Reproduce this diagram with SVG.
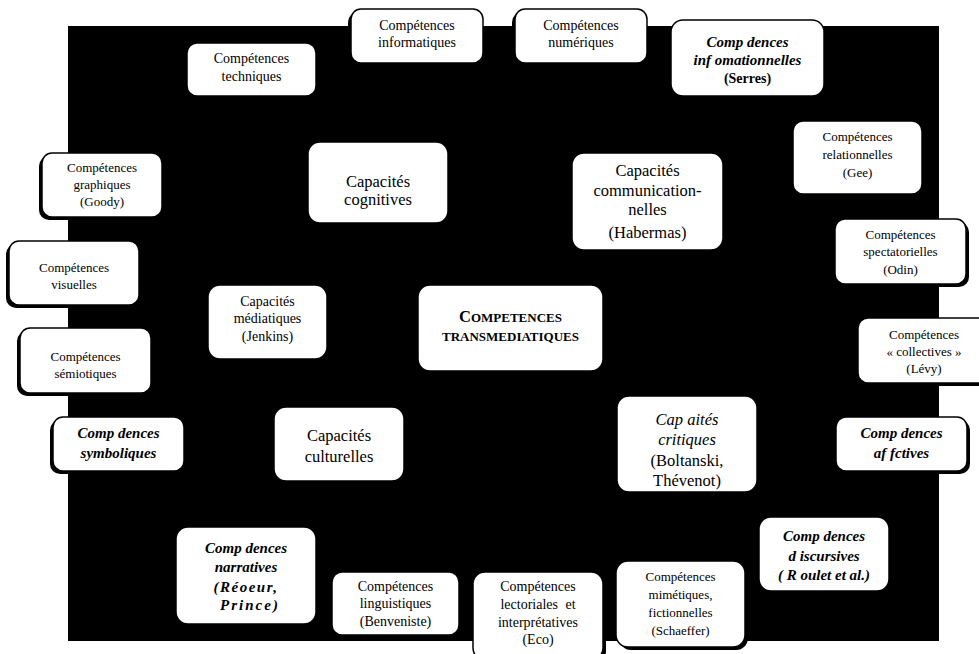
<svg xmlns="http://www.w3.org/2000/svg" width="979" height="654" viewBox="0 0 979 654" font-family="'Liberation Serif', 'DejaVu Serif', serif">
  <style>
    .bg { fill: #000; }
    .box { fill: #fff; stroke: #000; stroke-width: 1.5; }
    .sh { fill: #000; }
    text { font-family: 'Liberation Serif', 'DejaVu Serif', serif; fill: #000; text-anchor: middle; }
    .s { font-size: 14px; }
    .xs { font-size: 13px; }
    .big { font-size: 16.5px; }
    .bi { font-size: 15px; font-weight: bold; font-style: italic; }
    .it { font-style: italic; }
    .sc { font-weight: bold; font-size: 13px; }
    .scC { font-size: 16.5px; }
  </style>

  <!-- black backdrop -->
  <rect class="bg" x="68" y="26" width="871" height="615"/>

  <!-- outer ring of competences -->
  <g id="techniques">
    <rect class="sh" x="184" y="46" width="129" height="53" rx="10"/>
    <rect class="box" x="187" y="43" width="129" height="53" rx="10"/>
    <text class="s" x="251.5" y="63">Compétences</text>
    <text class="s" x="251.5" y="81">techniques</text>
  </g>

  <g id="informatiques">
    <rect class="sh" x="348" y="12" width="132" height="54" rx="10"/>
    <rect class="box" x="351" y="9" width="132" height="54" rx="10"/>
    <text class="s" x="417" y="30">Compétences</text>
    <text class="s" x="417" y="47">informatiques</text>
  </g>

  <g id="numeriques">
    <rect class="sh" x="512" y="12" width="132" height="54" rx="10"/>
    <rect class="box" x="515" y="9" width="132" height="54" rx="10"/>
    <text class="s" x="581" y="30">Compétences</text>
    <text class="s" x="581" y="47">numériques</text>
  </g>

  <g id="informationnelles">
    <rect class="sh" x="668" y="23" width="153" height="76" rx="12"/>
    <rect class="box" x="671" y="20" width="153" height="76" rx="12"/>
    <text class="bi" x="747.5" y="47">Comp dences</text>
    <text class="bi" x="747.5" y="65">inf omationnelles</text>
    <text class="s" x="747.5" y="83" font-weight="bold">(Serres)</text>
  </g>

  <g id="relationnelles">
    <rect class="sh" x="796" y="124" width="129" height="73" rx="10"/>
    <rect class="box" x="793" y="121" width="129" height="73" rx="10"/>
    <text class="xs" x="857.5" y="141">Compétences</text>
    <text class="xs" x="857.5" y="159">relationnelles</text>
    <text class="xs" x="857.5" y="177">(Gee)</text>
  </g>

  <g id="graphiques">
    <rect class="sh" x="39" y="156" width="120" height="64" rx="10"/>
    <rect class="box" x="42" y="153" width="120" height="64" rx="10"/>
    <text class="xs" x="102" y="172">Compétences</text>
    <text class="xs" x="102" y="189">graphiques</text>
    <text class="xs" x="102" y="206">(Goody)</text>
  </g>

  <g id="spectatorielles">
    <rect class="sh" x="838" y="222" width="131" height="65" rx="10"/>
    <rect class="box" x="835" y="219" width="131" height="65" rx="10"/>
    <text class="xs" x="900.5" y="239">Compétences</text>
    <text class="xs" x="900.5" y="256">spectatorielles</text>
    <text class="xs" x="900.5" y="274">(Odin)</text>
  </g>

  <g id="visuelles">
    <rect class="sh" x="6" y="244" width="130" height="64" rx="10"/>
    <rect class="box" x="9" y="241" width="130" height="64" rx="10"/>
    <text class="xs" x="74" y="272">Compétences</text>
    <text class="xs" x="74" y="289">visuelles</text>
  </g>

  <g id="collectives">
    <rect class="sh" x="861" y="321" width="132" height="65" rx="10"/>
    <rect class="box" x="858" y="318" width="132" height="65" rx="10"/>
    <text class="xs" x="924" y="339">Compétences</text>
    <text class="xs" x="924" y="356">« collectives »</text>
    <text class="xs" x="924" y="373">(Lévy)</text>
  </g>

  <g id="semiotiques">
    <rect class="sh" x="17" y="331" width="131" height="65" rx="10"/>
    <rect class="box" x="20" y="328" width="131" height="65" rx="10"/>
    <text class="xs" x="85.5" y="361">Compétences</text>
    <text class="xs" x="85.5" y="378">sémiotiques</text>
  </g>

  <g id="symboliques">
    <rect class="sh" x="50" y="420" width="131" height="54" rx="10"/>
    <rect class="box" x="53" y="417" width="131" height="54" rx="10"/>
    <text class="bi" x="118.5" y="438">Comp dences</text>
    <text class="bi" x="118.5" y="458">symboliques</text>
  </g>

  <g id="affectives">
    <rect class="sh" x="839" y="420" width="131" height="54" rx="10"/>
    <rect class="box" x="836" y="417" width="131" height="54" rx="10"/>
    <text class="bi" x="901.5" y="438">Comp dences</text>
    <text class="bi" x="901.5" y="458">af fctives</text>
  </g>

  <g id="narratives">
    <rect class="sh" x="173" y="530" width="140" height="97" rx="12"/>
    <rect class="box" x="176" y="527" width="140" height="97" rx="12"/>
    <text class="bi" x="246" y="553">Comp dences</text>
    <text class="bi" x="246" y="572">narratives</text>
    <text class="bi" x="246" y="592" letter-spacing="1.5">(Réoeur,</text>
    <text class="bi" x="250" y="610" letter-spacing="2">Prince)</text>
  </g>

  <g id="linguistiques">
    <rect class="sh" x="329" y="575" width="127" height="63" rx="10"/>
    <rect class="box" x="332" y="572" width="127" height="63" rx="10"/>
    <text class="s" x="395.5" y="591">Compétences</text>
    <text class="s" x="395.5" y="608">linguistiques</text>
    <text class="s" x="395.5" y="626">(Benveniste)</text>
  </g>

  <g id="lectoriales">
    <rect class="sh" x="476" y="575" width="130" height="88" rx="12"/>
    <rect class="box" x="473" y="572" width="130" height="88" rx="12"/>
    <text class="s" x="538" y="591">Compétences</text>
    <text class="s" x="538" y="609" word-spacing="4">lectoriales et</text>
    <text class="s" x="538" y="627">interprétatives</text>
    <text class="s" x="538" y="644">(Eco)</text>
  </g>

  <g id="mimetiques">
    <rect class="sh" x="619" y="564" width="129" height="86" rx="12"/>
    <rect class="box" x="616" y="561" width="129" height="86" rx="12"/>
    <text class="xs" x="680.5" y="581">Compétences</text>
    <text class="xs" x="680.5" y="599">mimétiques,</text>
    <text class="xs" x="680.5" y="617">fictionnelles</text>
    <text class="xs" x="680.5" y="635">(Schaeffer)</text>
  </g>

  <g id="discursives">
    <rect class="sh" x="762" y="520" width="130" height="74" rx="12"/>
    <rect class="box" x="759" y="517" width="130" height="74" rx="12"/>
    <text class="bi" x="824" y="541">Comp dences</text>
    <text class="bi" x="824" y="561">d iscursives</text>
    <text class="bi" x="824" y="580">( R oulet et al.)</text>
  </g>

  <!-- inner ring of capacities -->
  <g id="cognitives">
    <rect class="box" x="308" y="142" width="140" height="81" rx="12"/>
    <text class="big" x="378" y="187">Capacités</text>
    <text class="big" x="378" y="205">cognitives</text>
  </g>

  <g id="communicationnelles">
    <rect class="box" x="572" y="153" width="151" height="97" rx="12"/>
    <text class="big" x="647.5" y="176">Capacités</text>
    <text class="big" x="647.5" y="196">communication-</text>
    <text class="big" x="647.5" y="215">nelles</text>
    <text class="big" x="647.5" y="238">(Habermas)</text>
  </g>

  <g id="mediatiques">
    <rect class="box" x="208" y="285" width="119" height="74" rx="12"/>
    <text class="s" x="267.5" y="306">Capacités</text>
    <text class="s" x="267.5" y="323">médiatiques</text>
    <text class="s" x="267.5" y="341">(Jenkins)</text>
  </g>

  <g id="centre">
    <rect class="box" x="418" y="285" width="185" height="86" rx="12"/>
    <text class="sc" x="510.5" y="322"><tspan class="scC">C</tspan>OMPETENCES</text>
    <text class="sc" x="510.5" y="341">TRANSMEDIATIQUES</text>
  </g>

  <g id="culturelles">
    <rect class="box" x="274" y="407" width="130" height="74" rx="12"/>
    <text class="big" x="339" y="441">Capacités</text>
    <text class="big" x="339" y="462">culturelles</text>
  </g>

  <g id="critiques">
    <rect class="box" x="617" y="396" width="140" height="96" rx="12"/>
    <text class="big it" x="687" y="425">Cap aités</text>
    <text class="big it" x="687" y="445">critiques</text>
    <text class="big" x="687" y="466">(Boltanski,</text>
    <text class="big" x="687" y="486">Thévenot)</text>
  </g>

  <!-- no connectors are drawn between the boxes -->
  <g id="connectors"/>
</svg>
